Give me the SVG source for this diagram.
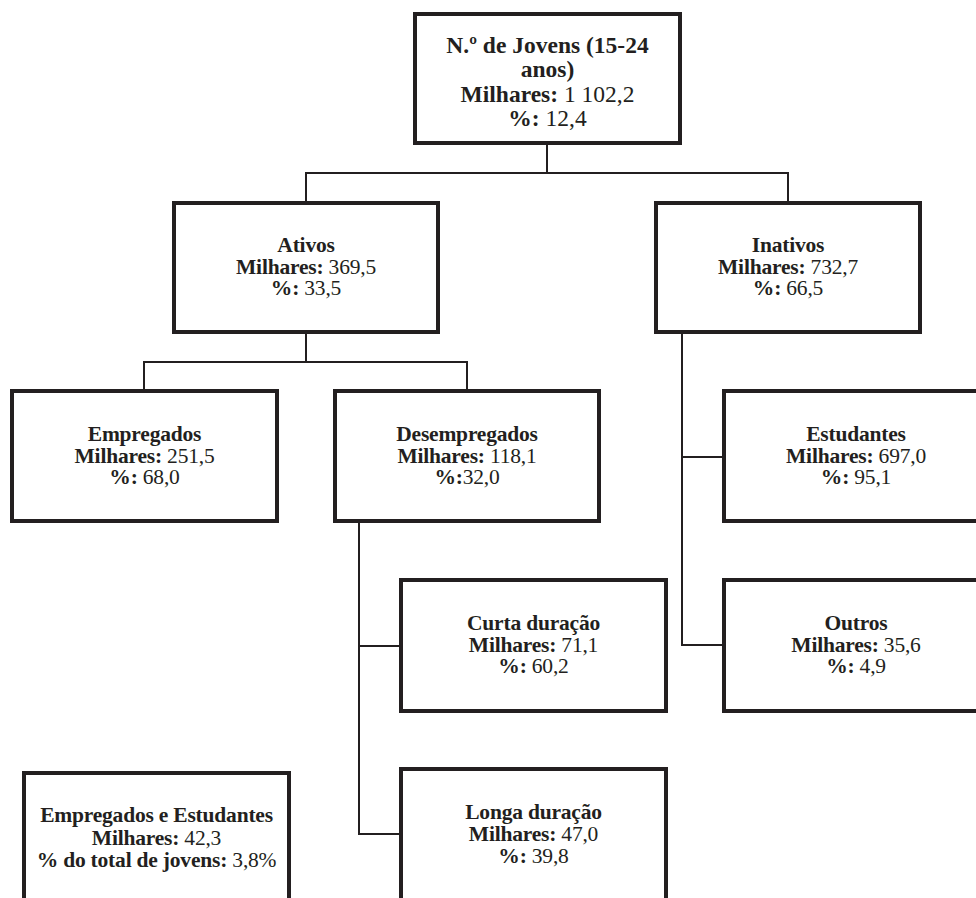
<svg xmlns="http://www.w3.org/2000/svg" width="976" height="898" viewBox="0 0 976 898">
<style>
.box{fill:#fff;stroke:#231f20;stroke-width:4}
.con{fill:none;stroke:#231f20;stroke-width:2}
text{font-family:"Liberation Serif","Times New Roman",serif;font-size:21.5px;fill:#231f20;text-anchor:middle;letter-spacing:-0.2px}
.big{font-size:23.5px;letter-spacing:0}
.b{font-weight:bold}
</style>
<rect width="976" height="898" fill="#fff"/>
<g id="connectors">
<path class="con" d="M547,145V173M306,173H788M306,172V201M788,172V201"/>
<path class="con" d="M306,334V362M144,362H467M144,361V389M467,361V389"/>
<path class="con" d="M359,523V834M358,646H399M358,834H399"/>
<path class="con" d="M682,334V645M682,457H722M681,645H722"/>
</g>
<g id="jovens">
<rect class="box" x="415" y="14" width="265" height="129"/>
<text class="big"><tspan class="b" x="547.5" y="53">N.º de Jovens (15-24</tspan><tspan class="b" x="547.5" y="77">anos)</tspan><tspan x="547.5" y="101.5"><tspan class="b">Milhares:</tspan> 1 102,2</tspan><tspan x="547.5" y="126"><tspan class="b">%:</tspan> 12,4</tspan></text>
</g>
<g id="ativos">
<rect class="box" x="174" y="203" width="264" height="129"/>
<text><tspan class="b" x="306" y="252">Ativos</tspan><tspan x="306" y="273.5"><tspan class="b">Milhares:</tspan> 369,5</tspan><tspan x="306" y="295"><tspan class="b">%:</tspan> 33,5</tspan></text>
</g>
<g id="inativos">
<rect class="box" x="656" y="203" width="264" height="129"/>
<text><tspan class="b" x="788" y="252">Inativos</tspan><tspan x="788" y="273.5"><tspan class="b">Milhares:</tspan> 732,7</tspan><tspan x="788" y="295"><tspan class="b">%:</tspan> 66,5</tspan></text>
</g>
<g id="empregados">
<rect class="box" x="12" y="391" width="265" height="130"/>
<text><tspan class="b" x="144.5" y="441">Empregados</tspan><tspan x="144.5" y="462.5"><tspan class="b">Milhares:</tspan> 251,5</tspan><tspan x="144.5" y="484"><tspan class="b">%:</tspan> 68,0</tspan></text>
</g>
<g id="desempregados">
<rect class="box" x="335" y="391" width="264" height="130"/>
<text><tspan class="b" x="467" y="441">Desempregados</tspan><tspan x="467" y="462.5"><tspan class="b">Milhares:</tspan> 118,1</tspan><tspan x="467" y="484"><tspan class="b">%:</tspan>32,0</tspan></text>
</g>
<g id="estudantes">
<rect class="box" x="724" y="391" width="264" height="130"/>
<text><tspan class="b" x="856" y="441">Estudantes</tspan><tspan x="856" y="462.5"><tspan class="b">Milhares:</tspan> 697,0</tspan><tspan x="856" y="484"><tspan class="b">%:</tspan> 95,1</tspan></text>
</g>
<g id="curta">
<rect class="box" x="401" y="580" width="265" height="131"/>
<text><tspan class="b" x="533.5" y="630">Curta duração</tspan><tspan x="533.5" y="651.5"><tspan class="b">Milhares:</tspan> 71,1</tspan><tspan x="533.5" y="673"><tspan class="b">%:</tspan> 60,2</tspan></text>
</g>
<g id="outros">
<rect class="box" x="724" y="580" width="264" height="131"/>
<text><tspan class="b" x="856" y="630">Outros</tspan><tspan x="856" y="651.5"><tspan class="b">Milhares:</tspan> 35,6</tspan><tspan x="856" y="673"><tspan class="b">%:</tspan> 4,9</tspan></text>
</g>
<g id="longa">
<rect class="box" x="401" y="769" width="265" height="160"/>
<text><tspan class="b" x="533.5" y="818.5">Longa duração</tspan><tspan x="533.5" y="840.5"><tspan class="b">Milhares:</tspan> 47,0</tspan><tspan x="533.5" y="863"><tspan class="b">%:</tspan> 39,8</tspan></text>
</g>
<g id="empregados-estudantes">
<rect class="box" x="24" y="773" width="265" height="160"/>
<text><tspan class="b" x="156.5" y="822">Empregados e Estudantes</tspan><tspan x="156.5" y="844.5"><tspan class="b">Milhares:</tspan> 42,3</tspan><tspan x="156.5" y="867"><tspan class="b">% do total de jovens:</tspan> 3,8%</tspan></text>
</g>
</svg>
